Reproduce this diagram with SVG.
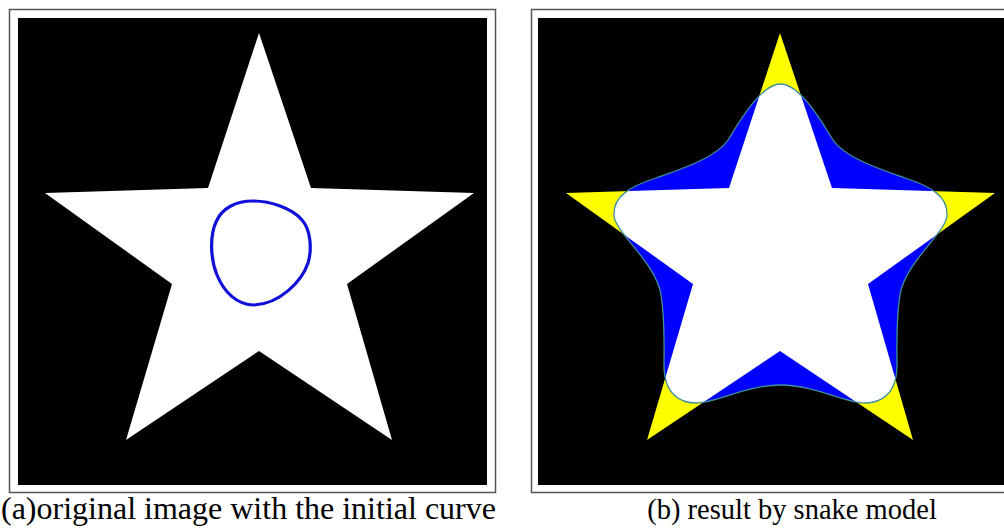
<svg xmlns="http://www.w3.org/2000/svg" width="1004" height="529" viewBox="0 0 1004 529">
<style>
.frame{fill:#fff;stroke:#555;stroke-width:1.5}
.bg{fill:#000}
.star{fill:#fff}
.cap{font-family:"Liberation Serif","Times New Roman",serif;fill:#000}
</style>
<defs>
<path id="starB" d="M780,33 L832,188 L995,193 L868,284 L913,440 L780,351 L647,440 L693,284 L566,193 L729,188 Z"/>
<path id="snake" d="M780.5,84 C800,84 822,122 833,140 C845,158 881.5,169.7 905,178 C930,186 948,196 947,215 C947,232 905,262 900,295 C896,320 897,345 897,365 C897,395 880,403 865,403 C845,403 815,385 780.5,385 C746,385 716,403 696,403 C681,403 664,395 664,365 C664,345 665,320 661,295 C656,262 614,232 614,215 C613,196 631,186 656,178 C679.5,169.7 716,158 728,140 C739,122 761,84 780.5,84 Z"/>
<clipPath id="snakeClip"><use href="#snake"/></clipPath>
</defs>
<rect fill="#fff" width="1004" height="529"/>
<g id="panel-a">
<rect class="frame" x="9.5" y="9.5" width="486" height="483"/>
<rect class="bg" x="18" y="18" width="469" height="467"/>
<path class="star" d="M259,33 L311,188 L474,193 L347,284 L392,440 L259,351 L126,440 L172,284 L45,193 L208,188 Z"/>
<path id="initial-curve" fill="none" stroke="#1010d8" stroke-width="3.2" d="M253,201 C270,201 292,208 302,220 C311,230 312,250 308,263 C302,281 280,304 254,305 C237,305 224,292 217,275 C210,258 210,235 216,222 C222,208 236,201 253,201 Z"/>
</g>
<g id="panel-b">
<rect class="frame" x="531.5" y="9.5" width="480" height="483"/>
<rect class="bg" x="538" y="18" width="470" height="467"/>
<use href="#starB" fill="#ffff00"/>
<use href="#snake" fill="#0000ff"/>
<use href="#starB" fill="#fff" clip-path="url(#snakeClip)"/>
<use href="#snake" fill="none" stroke="#3f8f9a" stroke-width="1.3"/>
</g>
<g id="captions">
<text class="cap" x="1" y="519" font-size="32">(a)original image with the initial curve</text>
<text class="cap" x="792" y="519" font-size="28.5" text-anchor="middle">(b) result by snake model</text>
</g>
</svg>
